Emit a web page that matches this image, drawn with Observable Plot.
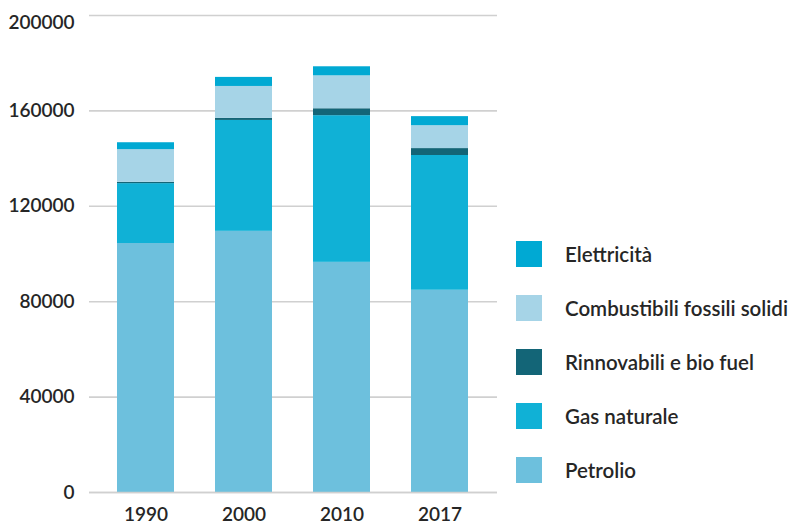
<!DOCTYPE html>
<html>
<head>
<meta charset="utf-8">
<script src="https://cdn.jsdelivr.net/npm/d3@7"></script>
<script src="https://cdn.jsdelivr.net/npm/@observablehq/plot@0.6"></script>
<style>
  html, body { margin: 0; padding: 0; background: #fff; }
  #wrap { position: relative; width: 795px; height: 525px; font-family: "Source Sans Pro", Lato, "Open Sans", sans-serif; }
  #chart { position: absolute; left: 0; top: 0; }
  #legend { position: absolute; left: 516px; top: 241px; }
  .item { display: flex; align-items: center; height: 26px; margin-bottom: 28px; }
  .sw { width: 26px; height: 26px; margin-right: 23px; flex: none; }
  .lab { font-size: 20.5px; font-weight: 600; color: #262626; white-space: nowrap; }
</style>
</head>
<body>
<div id="wrap"><div id="chart"></div><div id="legend"></div></div>
<script>
const years = ["1990", "2000", "2010", "2017"];
const series = ["Petrolio", "Gas naturale", "Rinnovabili e bio fuel", "Combustibili fossili solidi", "Elettricità"];
const colors = ["#6dc0dd", "#10b1d6", "#136577", "#a6d4e7", "#00a9d3"];
const petrolio = [104400, 109500, 96500, 84800];
const gasNaturale = [25100, 46500, 61500, 56500];
const rinnovabili = [550, 850, 2900, 2900];
const combustibili = [13700, 13400, 13800, 9600];
const elettricita = [2900, 3800, 3800, 3800];
const yTicks = [0, 40000, 80000, 120000, 160000, 200000];

const values = [petrolio, gasNaturale, rinnovabili, combustibili, elettricita];
const data = [];
series.forEach((s, i) => years.forEach((y, j) => data.push({year: y, serie: s, value: values[i][j]})));

const font = '"Source Sans Pro", Lato, "Open Sans", sans-serif';
const chart = Plot.plot({
  width: 510,
  height: 525,
  marginLeft: 89,
  marginRight: 13,
  marginTop: 15,
  marginBottom: 33,
  style: {fontFamily: font, fontSize: "19px", fontWeight: 600, color: "#262626", background: "#fff"},
  x: {domain: years, paddingInner: 0.418, paddingOuter: 0.273, label: null},
  y: {domain: [0, 200000], label: null},
  color: {domain: series, range: colors},
  marks: [
    Plot.ruleY(yTicks, {stroke: "#d0d0d0", strokeWidth: 1.6}),
    Plot.barY(data, {x: "year", y: "value", fill: "serie", order: series}),
    Plot.ruleY([0], {stroke: "#d0d0d0", strokeWidth: 1.6}),
    Plot.axisY(yTicks.filter(d => d !== 200000), {tickSize: 0, tickPadding: 15, tickFormat: d => String(d), fill: "#262626"}),
    Plot.axisY([200000], {tickSize: 0, tickPadding: 15, tickFormat: d => String(d), fill: "#262626", dy: 7}),
    Plot.axisX({tickSize: 0, tickPadding: 15, fill: "#262626"})
  ]
});
document.getElementById("chart").appendChild(chart);

const legend = document.getElementById("legend");
for (let i = series.length - 1; i >= 0; i--) {
  const it = document.createElement("div");
  it.className = "item";
  const sw = document.createElement("div");
  sw.className = "sw";
  sw.style.background = colors[i];
  const lab = document.createElement("div");
  lab.className = "lab";
  lab.textContent = series[i];
  it.appendChild(sw);
  it.appendChild(lab);
  legend.appendChild(it);
}
</script>
</body>
</html>
